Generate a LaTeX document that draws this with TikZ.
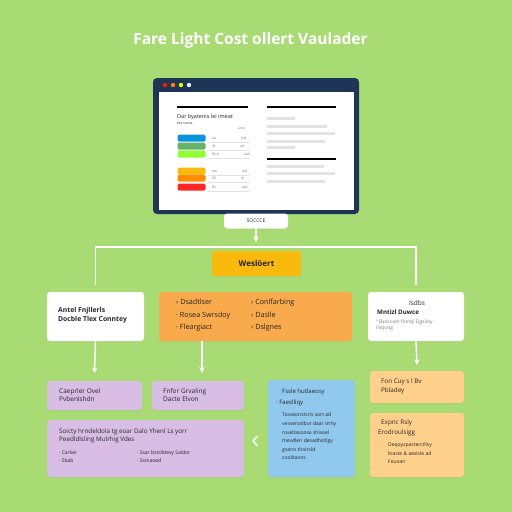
\documentclass[tikz,border=0pt]{standalone}
\usepackage{fontspec}
\setmainfont{Open Sans}
\usepackage{tikz}
\usetikzlibrary{arrows,shadows}

\definecolor{bggreen}{HTML}{A9DB74}
\definecolor{navy}{HTML}{1F3556}
\definecolor{gold}{HTML}{F9B90D}
\definecolor{orangebox}{HTML}{F8AA4C}
\definecolor{lilac}{HTML}{D8BDE4}
\definecolor{skyblue}{HTML}{90C8EE}
\definecolor{peach}{HTML}{FFD08C}
\definecolor{inktext}{HTML}{262626}
\definecolor{faint}{HTML}{E2E2E2}

\tikzset{
    card/.style={rounded corners=3pt, inner sep=0pt, drop shadow={shadow xshift=0pt, shadow yshift=-1.2pt, opacity=0.12}},
    link/.style={draw=white, line width=1.4pt},
    txt/.style={anchor=west, align=left, inner sep=0pt, text=inktext},
    bar/.style={rounded corners=1.5pt, minimum width=28pt, minimum height=7pt, inner sep=0pt},
}

\begin{document}
\begin{tikzpicture}[x=1pt, y=-1pt]
    \fill[bggreen] (0,0) rectangle (512,512);
    \useasboundingbox (0,0) rectangle (512,512);

    \node[text=white, font=\bfseries\fontsize{15.5}{18}\selectfont] (title) at (250.5,40) {Fare Light Cost ollert Vaulader};

    % Monitor
    \node[fill=navy, rounded corners=4pt, minimum width=206pt, minimum height=136pt, inner sep=0pt] (monitor) at (256,146) {};
    \node[fill=white, minimum width=195pt, minimum height=118pt, inner sep=0pt] (screen) at (256.5,151) {};
    \foreach \c/\x in {red!80!orange/165, orange/173, lime!60!yellow/181, cyan!15/189}
        \fill[\c] (\x,85) circle (2.2);
    \draw[black, line width=1.3pt] (177,107) -- (248,107);
    \draw[black, line width=1.3pt] (267,107) -- (336,107);
    \draw[black, line width=1.3pt] (267,159) -- (336,159);
    \node[txt, font=\fontsize{5.5}{6}\selectfont] (scrhead) at (177,117) {Dar byatenis lei imeat};
    \node[txt, font=\fontsize{3.5}{4}\selectfont] (scrsub) at (177,123) {ma toons};
    \node[txt, font=\fontsize{3.5}{4}\selectfont, text=gray] (scrcol) at (238,128) {ulse};
    \foreach \y/\c in {138/cyan!80!blue, 146/green!50!black!60!white, 154/lime!60!green!80!white,
                      171/gold, 178/orange!90!yellow, 187/red!85!white} {
        \node[bar, fill=\c] at (191.5,\y) {};
        \draw[faint, line width=0.4pt] (208,\y+4) -- (250,\y+4);
    }
    \foreach \y/\a/\b in {138/aa/ald, 146/id/atf, 154/Boxl/aah, 171/Aw/ald, 178/Zb/al, 187/Bo/aad}
        \node[txt, font=\fontsize{3.5}{4}\selectfont, text=gray] at (212,\y) {\a\hspace{25pt}\b};
    \foreach \y/\w in {118/28, 126/60, 133/68, 141/58, 147/28, 166/57, 173/68, 181/58}
        \draw[faint, line width=3pt] (267,\y) -- ++(\w,0);

    % Source and hub
    \node[card, fill=white, minimum width=64pt, minimum height=15pt, font=\fontsize{5}{6}\selectfont, text=inktext] (source) at (256,221) {SOCCCE};
    \node[card, fill=gold, minimum width=89pt, minimum height=25pt, font=\bfseries\fontsize{8}{9}\selectfont, text=inktext] (hub) at (256.5,263.5) {Weslöert};
    \coordinate (bus) at (256,247);

    % Feature row
    \node[card, fill=white, minimum width=97pt, minimum height=49pt] (featl) at (95.5,316.5) {};
    \node[card, fill=orangebox, minimum width=193pt, minimum height=49pt] (featc) at (255.5,316.5) {};
    \node[card, fill=white, minimum width=96pt, minimum height=49pt] (featr) at (416,316.5) {};

    \node[txt, font=\bfseries\fontsize{6.8}{9}\selectfont] (featltxt) at (58,315.5) {Antel Fnjllerls\\Docble Tlex Conntey};
    \node[txt, font=\fontsize{7.2}{12.5}\selectfont] (featcone) at (176,315.5) {› Dsadtlser\\· Rosea Swrsdoy\\· Fleargiact};
    \node[txt, font=\fontsize{7.2}{12.5}\selectfont] (featctwo) at (251,315.5) {› Conlfarbing\\› Daslle\\› Dslgnes};
    \node[inner sep=0pt, text=inktext, font=\fontsize{6.5}{7}\selectfont] (featrtop) at (417,303) {Isdbs};
    \node[txt, font=\bfseries\fontsize{6.2}{7}\selectfont] (featrhead) at (377,312) {Mntizl Duwce};
    \node[txt, font=\fontsize{5}{6}\selectfont, text=gray] (featrbody) at (376,325.5) {“ Bxsscaer fionqi Dgsiloy\\ Ilsquog};

    % Detail row
    \node[card, fill=lilac, minimum width=95pt, minimum height=29pt] (purpa) at (94.5,395.5) {};
    \node[card, fill=lilac, minimum width=92pt, minimum height=29pt] (purpb) at (198,395.5) {};
    \node[card, fill=lilac, minimum width=197pt, minimum height=57pt] (purpc) at (145.5,448.5) {};
    \node[card, fill=skyblue, minimum width=87pt, minimum height=97pt] (blue) at (311.5,428.5) {};
    \node[card, fill=peach, minimum width=94pt, minimum height=32pt] (orga) at (417,387) {};
    \node[card, fill=peach, minimum width=94pt, minimum height=64pt] (orgb) at (417,445) {};

    \node[txt, font=\fontsize{6.5}{8.5}\selectfont] (purpatxt) at (59,395) {Caeprler Ovel\\Pvbenlshdn};
    \node[txt, font=\fontsize{6.5}{8.5}\selectfont] (purpbtxt) at (163,395) {Fnfor Grvaling\\Dacte Elvon};
    \node[txt, font=\fontsize{6.3}{8.3}\selectfont] (purpchead) at (59,436) {Soicty hrndeldola tg eoar Dalo Yhenl Ls yorr\\Peedldlsling Mulrhig Vdes};
    \node[txt, font=\fontsize{5}{7.5}\selectfont] (purpcone) at (59,456.5) {· Carlwr\\· Sbab};
    \node[txt, font=\fontsize{5}{7.5}\selectfont] (purpctwo) at (137,456.5) {· Ssar bstslldesy Saldor\\· Ssmaoed};

    \node[txt, font=\fontsize{6}{7}\selectfont] (bluehead) at (282,392) {Fssle hutlaeosy};
    \node[txt, font=\fontsize{6}{7}\selectfont] (bluesub) at (276,403) {· Faeslliqy};
    \node[txt, font=\fontsize{5}{8.6}\selectfont] (bluebody) at (282,436.5) {Tosseonstsrls sort ad\\vesseroslbor daar shhy\\roseltasoosa shisoel\\mevdleri desadhstilgy\\gvano tlssirsld\\coolitaxns};

    \node[txt, font=\fontsize{6.3}{9}\selectfont] (orgatxt) at (381,386.5) {Fon Cuy s l Bv\\Pbladey};
    \node[txt, font=\fontsize{6.3}{7}\selectfont] (orgbhead) at (381,423) {Expnc Rsly};
    \node[txt, font=\fontsize{6.3}{7}\selectfont] (orgbsub) at (378,433) {Erodroulsigg};
    \node[txt, font=\fontsize{5}{8.5}\selectfont] (orgbbody) at (388,453.5) {Deqoyspasterctllsy\\biaste \& aeslsle ad\\Feuoan};

    % Vertical arrows
    \draw[link, -stealth] (source.south) -- ([yshift=5pt]bus);
    \draw[link, -stealth] (featl.south) -- ([yshift=8pt]purpa.north);
    \draw[link, -stealth] (featc.south -| 202,0) -- ([yshift=8pt]purpb.north -| 202,0);
    \draw[link, -stealth] (featr.south) -- ([yshift=6pt]orga.north);

    % Horizontal arrows
    \draw[link] ([yshift=7pt]featl.north) |- (bus) -| ([yshift=7pt]featr.north);

    % Back marker
    \coordinate (back) at (255,441);
    \draw[white, line width=1.6pt, line cap=round, line join=round]
        ([xshift=2pt, yshift=4.5pt]back) -- ([xshift=-2pt]back) -- ([xshift=2pt, yshift=-4.5pt]back);
\end{tikzpicture}
\end{document}
